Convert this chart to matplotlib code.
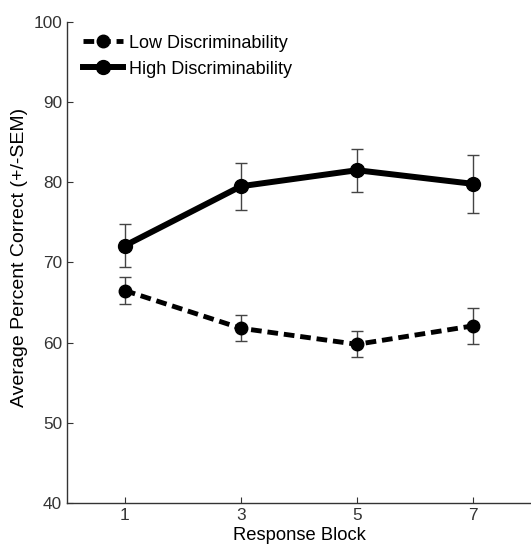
import numpy as np
import matplotlib
matplotlib.use('Agg')
import matplotlib.pyplot as plt
from matplotlib.lines import Line2D

plt.rcParams['font.family'] = ['Liberation Sans', 'DejaVu Sans']

# data
blocks = [1, 3, 5, 7]
low_mean = [66.5, 61.8, 59.8, 62.1]
low_sem = [1.7, 1.6, 1.6, 2.2]
high_mean = [72.1, 79.5, 81.5, 79.8]
high_sem = [2.7, 2.9, 2.7, 3.6]

fig = plt.figure(figsize=(5.31, 5.44), dpi=100)
ax = fig.add_axes([0.126, 0.075, 0.874, 0.885])

ax.errorbar(blocks, low_mean, yerr=low_sem, color='black', ecolor='#444444',
            elinewidth=1, capsize=4, capthick=1, linestyle='--', dashes=(2.2, 1.2),
            linewidth=3.5, marker='o', markersize=9)
ax.errorbar(blocks, high_mean, yerr=high_sem, color='black', ecolor='#444444',
            elinewidth=1, capsize=4, capthick=1, linestyle='-',
            linewidth=4.3, marker='o', markersize=10)

ax.set_xlim(0, 8)
ax.set_ylim(40, 100)
ax.set_xticks(blocks)
ax.set_yticks(np.arange(40, 101, 10))
ax.tick_params(direction='in', length=4, width=0.8, colors='#333333',
               labelsize=12.4, labelcolor='#333333')
for s in ['top', 'right']:
    ax.spines[s].set_visible(False)
for s in ['left', 'bottom']:
    ax.spines[s].set_color('#333333')
    ax.spines[s].set_linewidth(1)

ax.set_xlabel('Response Block', fontsize=13.2, labelpad=3)
ax.set_ylabel('Average Percent Correct (+/-SEM)', fontsize=14)
ax.yaxis.set_label_coords(-0.083, 0.51)

# legend without error bars
handles = [
    Line2D([], [], color='black', linestyle='--', dashes=(2.2, 1.2), linewidth=3.5,
           marker='o', markersize=9),
    Line2D([], [], color='black', linestyle='-', linewidth=4.3,
           marker='o', markersize=10),
]
labels = ['Low Discriminability', 'High Discriminability']
ax.legend(handles, labels, loc='upper left', bbox_to_anchor=(0.02, 0.988),
          frameon=False, fontsize=13, handlelength=2.2, handletextpad=0.3,
          labelspacing=0.5, borderaxespad=0)

fig.savefig('out.png', dpi=100)
